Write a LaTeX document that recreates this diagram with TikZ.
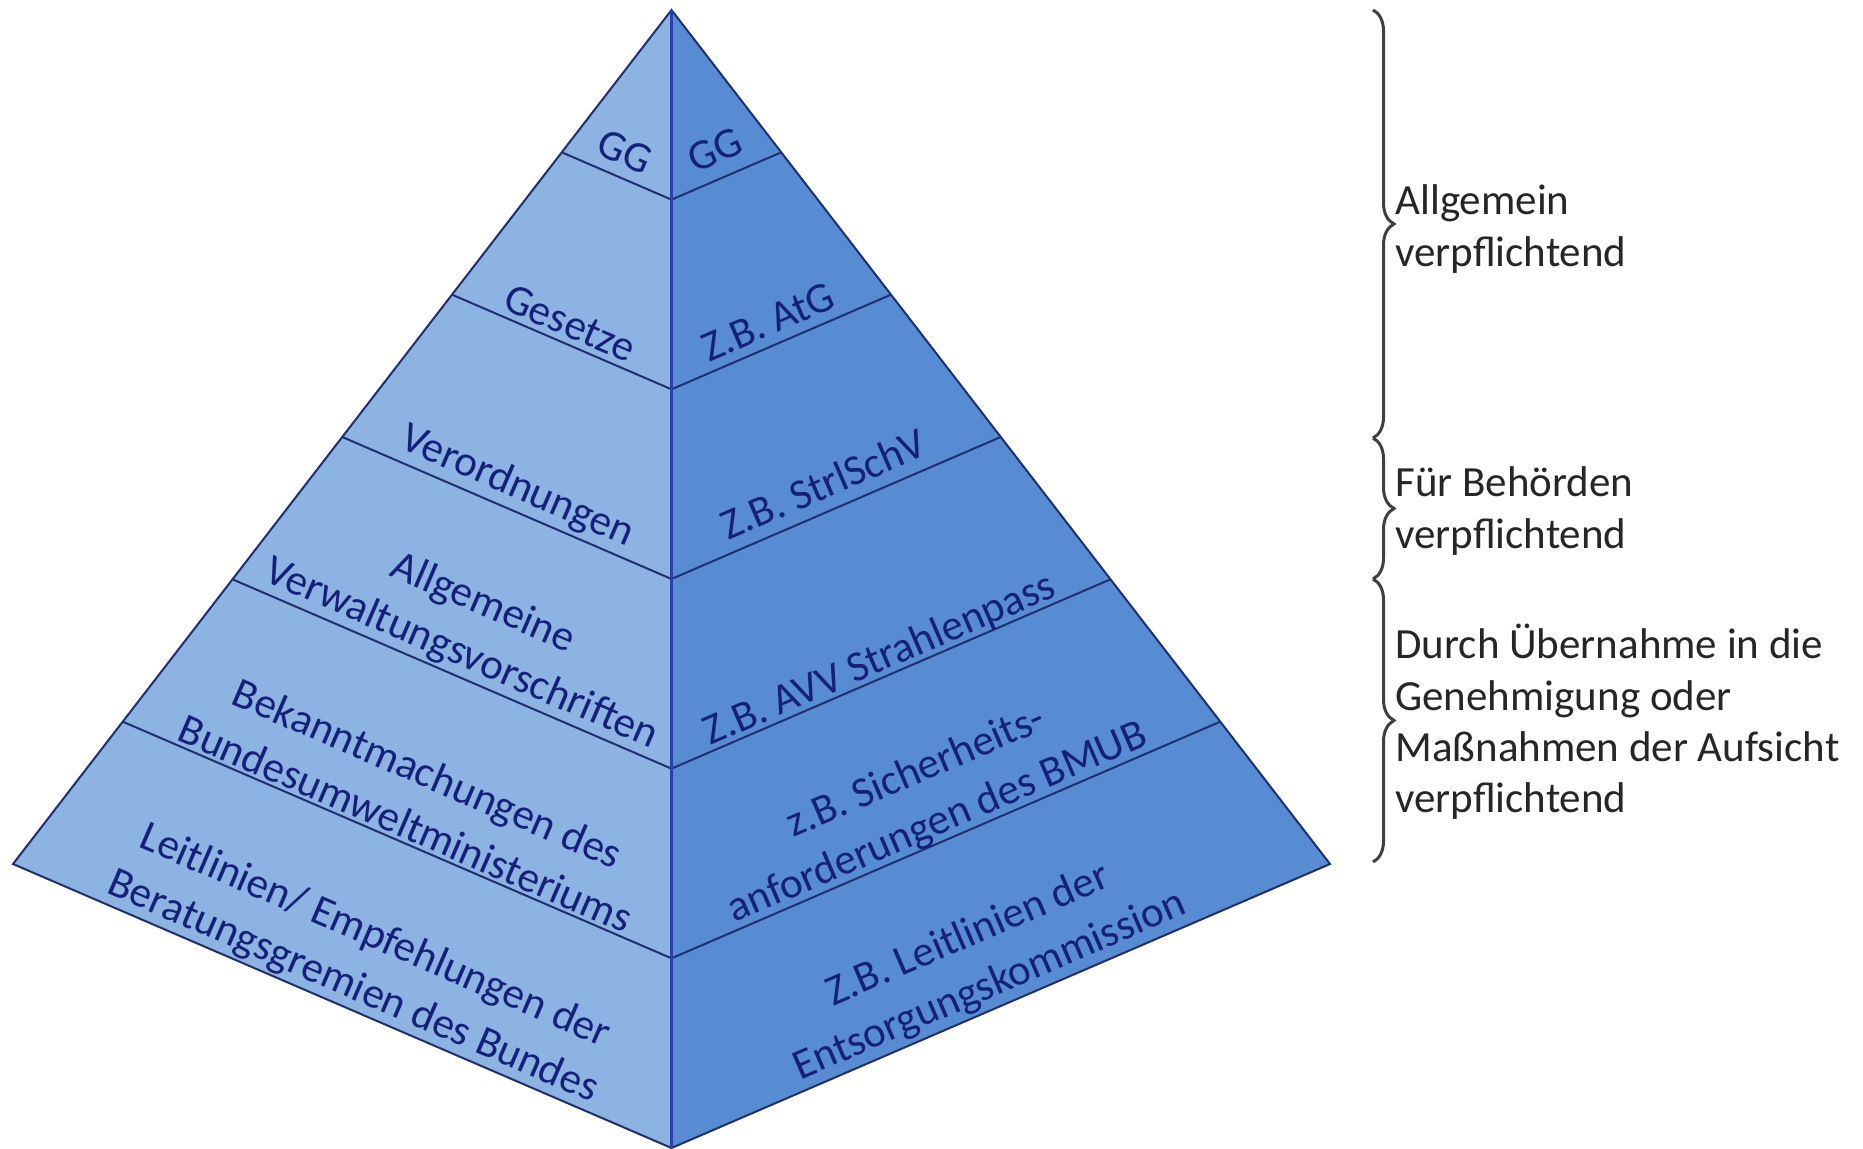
\documentclass[tikz,border=0pt]{standalone}
\usepackage{fontspec}
\setmainfont{Carlito}
\usetikzlibrary{decorations.pathreplacing,calc}
\definecolor{faceL}{HTML}{8DB3E2}
\definecolor{faceR}{HTML}{578CD3}
\definecolor{edgeC}{HTML}{1F2F70}
\definecolor{midC}{HTML}{2B3FB0}
\definecolor{txtC}{HTML}{15207A}
\definecolor{braceC}{HTML}{404040}
\definecolor{noteC}{HTML}{262626}
\begin{document}
\begin{tikzpicture}[x=0.5pt,y=-0.5pt,
  lbl/.style={text=txtC, font=\fontsize{21.5}{27.5}\selectfont, align=center, inner sep=0pt},
  lft/.style={lbl, rotate=-23.33},
  rgt/.style={lbl, rotate=23.33},
  note/.style={text=noteC, font=\fontsize{21.5}{25.6}\selectfont, align=left, anchor=west, inner sep=0pt},
  sep/.style={draw=edgeC, line width=1pt},
  bracestyle/.style={draw=braceC, line width=1.5pt, decorate, decoration={brace, amplitude=10.5pt}}
]
\fill[white] (0,0) rectangle (1863,1149);
\useasboundingbox (0,0) rectangle (1863,1149);
\coordinate (A) at (671.5,10);
\coordinate (L) at (13,864);
\coordinate (R) at (1330,864);
\coordinate (B) at (671.5,1148);
\fill[faceL] (A) -- (L) -- (B) -- cycle;
\fill[faceR] (A) -- (R) -- (B) -- cycle;
\foreach \k in {1,...,5} {
  \draw[sep] ($(A)!\k/6!(L)$) -- ($(A)!\k/6!(B)$) -- ($(A)!\k/6!(R)$);
}
\draw[sep] (A) -- (L) -- (B) -- (R) -- cycle;
\draw[draw=midC, line width=1.5pt] (A) -- (B);

\node[lft] (t1) at (625,152) {GG};
\node[rgt] (t2) at (715,150) {GG};
\node[lft] (t3) at (570,323) {Gesetze};
\node[rgt] (t4) at (768,322) {Z.B. AtG};
\node[lft] (t5) at (517,487) {Verordnungen};
\node[rgt] (t6) at (823,484) {Z.B. StrlSchV};
\node[lft] (t7) at (472,629) {Allgemeine\\Verwaltungsvorschriften};
\node[rgt] (t8) at (880,660) {Z.B. AVV Strahlenpass};
\node[lft] (t9) at (417,798) {Bekanntmachungen des\\Bundesumweltministeriums};
\node[rgt] (t10) at (927,798) {z.B. Sicherheits-\\anforderungen des BMUB};
\node[lft] (t11) at (364,962) {Leitlinien/ Empfehlungen der\\Beratungsgremien des Bundes};
\node[rgt] (t12) at (979,961) {Z.B. Leitlinien der\\Entsorgungskommission};

\coordinate (b0) at (1373,10);
\coordinate (b1) at (1373,438);
\coordinate (b2) at (1373,579);
\coordinate (b3) at (1373,862);
\draw[bracestyle] (b0) -- (b1);
\draw[bracestyle] (b1) -- (b2);
\draw[bracestyle] (b2) -- (b3);

\node[note] (n1) at (1395,229) {Allgemein\\verpflichtend};
\node[note] (n2) at (1395,511) {Für Behörden\\verpflichtend};
\node[note] (n3) at (1395,722) {Durch Übernahme in die\\Genehmigung oder\\Maßnahmen der Aufsicht\\verpflichtend};
\end{tikzpicture}
\end{document}
